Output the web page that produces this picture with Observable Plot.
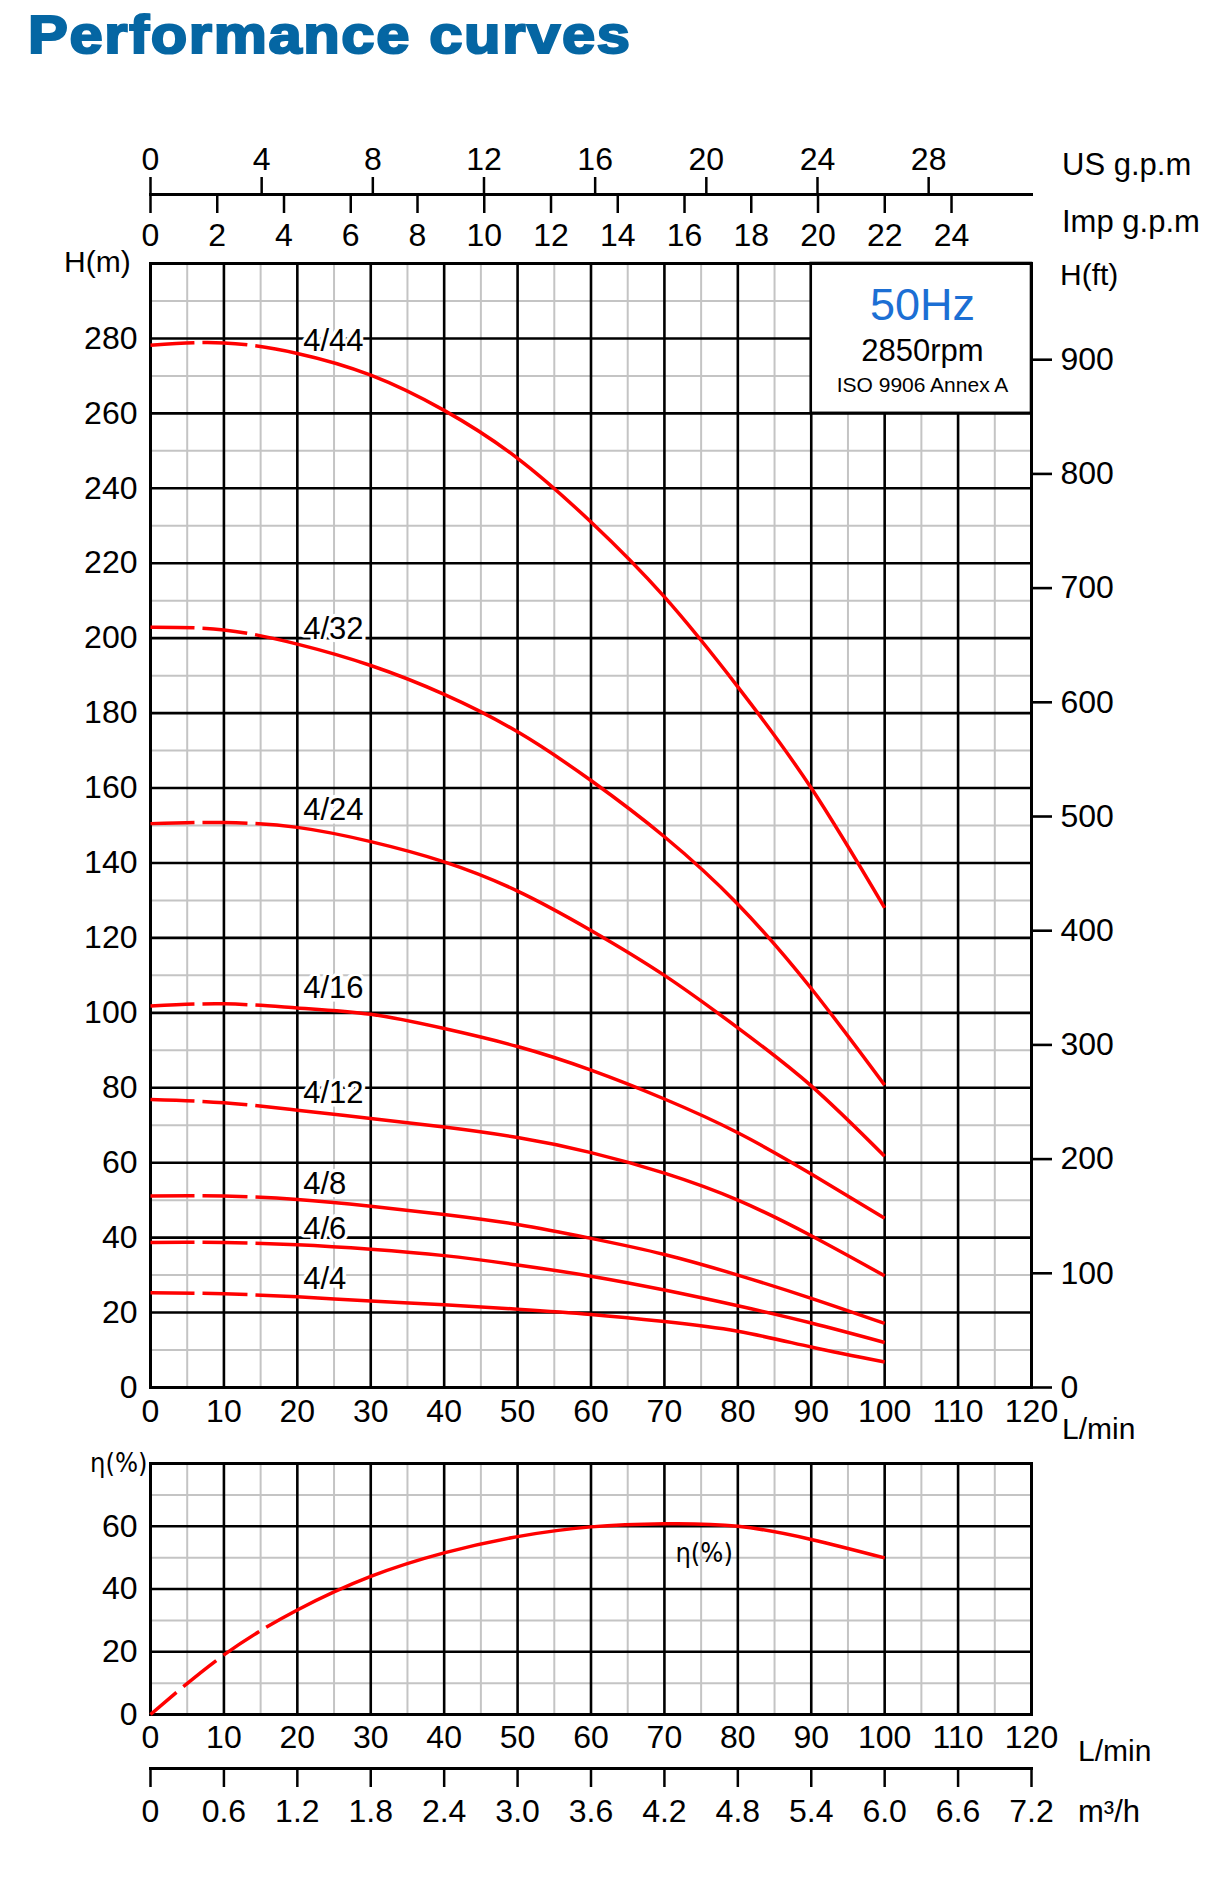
<!DOCTYPE html>
<html><head><meta charset="utf-8">
<script src="https://cdn.jsdelivr.net/npm/d3@7"></script>
<script src="https://cdn.jsdelivr.net/npm/@observablehq/plot@0.6"></script>
<style>
 body{margin:0;background:#fff;}
 #page{position:relative;width:1214px;height:1895px;background:#fff;font-family:"Liberation Sans",Arial,sans-serif;color:#000;overflow:hidden}
 .abs{position:absolute;white-space:nowrap;line-height:1}
 #title{left:28px;top:7px;font-size:54px;font-weight:bold;color:#0566a3;letter-spacing:1.5px;transform:scaleX(1.105);transform-origin:0 0;-webkit-text-stroke:2.2px #0566a3}
 .narrow{font-family:"Liberation Sans Narrow","DejaVu Sans Condensed",sans-serif}
 .plotbox{position:absolute;left:0}
</style></head>
<body><div id="page">
<div id="title" class="abs">Performance curves</div>
<div class="abs" style="left:1062px;top:149px;font-size:31px">US g.p.m</div>
<div class="abs" style="left:1062px;top:206px;font-size:31px">Imp g.p.m</div>
<div class="abs" style="left:64px;top:247px;font-size:30px">H(m)</div>
<div class="abs" style="left:1060px;top:260px;font-size:30px">H(ft)</div>
<div class="abs" style="left:1062px;top:1414px;font-size:30px">L/min</div>
<div class="abs narrow" style="left:90px;top:1449px;font-size:27px">η(%)</div>
<div class="abs" style="left:1078px;top:1736px;font-size:30px">L/min</div>
<div class="abs" style="left:1078px;top:1796px;font-size:31px">m³/h</div>
</div>
<script>
// ---------- data ----------
const flow = [0, 10, 20, 30, 40, 50, 60, 70, 80, 90, 100]; // L/min
const models = ["4/44", "4/32", "4/24", "4/16", "4/12", "4/8", "4/6", "4/4"];
const head_4_44 = [278.2, 278.8, 276, 270.2, 260.8, 248, 231, 211, 187, 160, 128];
const head_4_32 = [202.9, 202.2, 198.4, 192.7, 185, 175, 162, 147, 129, 106.5, 80.7];
const head_4_24 = [150.5, 150.8, 149.5, 145.7, 140.3, 132.5, 122, 110, 96, 80.5, 61.7];
const head_4_16 = [101.8, 102.4, 101.3, 99.6, 95.8, 91, 84.7, 77, 68, 57, 45.2];
const head_4_12 = [76.9, 76, 74, 71.8, 69.5, 66.7, 62.7, 57.2, 50, 40.5, 29.8];
const head_4_8  = [51.1, 51.1, 50.2, 48.4, 46.2, 43.5, 39.8, 35.5, 30, 23.8, 17.1];
const head_4_6  = [38.7, 38.7, 38.1, 36.9, 35.2, 32.7, 29.7, 26, 21.8, 17.2, 12];
const head_4_4  = [25.3, 25, 24.2, 23.1, 22.1, 20.9, 19.5, 17.6, 15, 10.8, 6.8];
const headSeries = [head_4_44, head_4_32, head_4_24, head_4_16, head_4_12, head_4_8, head_4_6, head_4_4];
const labelFlow = 20.8;
const labelHead = [279.2, 202.4, 154, 106.7, 78.7, 54.4, 42.4, 29];
const efficiency = [0, 19, 33.3, 44, 51.5, 56.7, 59.8, 60.8, 60, 55.8, 49.9];
const effLabel = {q: 71.5, eff: 51.4, text: "η(%)"};

const flowTicks = [0, 10, 20, 30, 40, 50, 60, 70, 80, 90, 100, 110, 120];
const headTicks = [0, 20, 40, 60, 80, 100, 120, 140, 160, 180, 200, 220, 240, 260, 280];
const ftTicks = [0, 100, 200, 300, 400, 500, 600, 700, 800, 900];
const effTicks = [0, 20, 40, 60];
const usTicks = [0, 4, 8, 12, 16, 20, 24, 28];
const impTicks = [0, 2, 4, 6, 8, 10, 12, 14, 16, 18, 20, 22, 24];
const m3Ticks = [0, 0.6, 1.2, 1.8, 2.4, 3.0, 3.6, 4.2, 4.8, 5.4, 6.0, 6.6, 7.2];
const boxRegion = {q1: 90, q2: 120, h1: 260, h2: 300};
const boxTexts = ["50Hz", "2850rpm", "ISO 9906 Annex A"];

const L_PER_USGAL = 3.785411784, L_PER_IMPGAL = 4.54609, M_PER_FT = 0.3048;

// ---------- layout ----------
const W = 1214, ML = 150, MR = 183;
const FONT = "Liberation Sans, Arial, sans-serif";
const RED = "#ff0000", GRAY = "#c4c4c4";
const gridMinorX = d3.range(5, 120, 10);
const gridMajorX = d3.range(10, 120, 10);
const page = document.getElementById("page");
function place(svg, top) {
  const d = document.createElement("div");
  d.className = "plotbox"; d.style.top = top + "px";
  d.appendChild(svg); page.appendChild(d);
}
const baseStyle = {fontFamily: FONT, fontSize: "32px", background: "none", color: "#000", overflow: "visible"};

// header: US / Imp gpm axes
const header = Plot.plot({
  width: W, height: 140, marginLeft: ML, marginRight: MR, marginTop: 70, marginBottom: 70,
  x: {domain: [0, 120]},
  style: baseStyle,
  marks: [
    Plot.frame({anchor: "top", stroke: "#000", strokeWidth: 3}),
    Plot.axisX({anchor: "top", ticks: usTicks.map(g => g * L_PER_USGAL), tickFormat: d => Math.round(d / L_PER_USGAL),
      tickSize: 18, tickPadding: 7, strokeWidth: 2.5, label: null}),
    Plot.axisX({anchor: "bottom", ticks: impTicks.map(g => g * L_PER_IMPGAL), tickFormat: d => Math.round(d / L_PER_IMPGAL),
      tickSize: 19, tickPadding: 10, strokeWidth: 2.5, label: null})
  ]
});
place(header, 124);

// main head chart
const headRows = models.flatMap((m, i) => flow.map((q, j) => ({model: m, q, h: headSeries[i][j]})));
const labelRows = models.map((m, i) => ({model: m, q: labelFlow, h: labelHead[i]}));
const boxText = (t, dy, size, color) => Plot.text([t], {text: d => d, frameAnchor: "top-right", textAnchor: "middle",
  lineAnchor: "middle", dx: -109, dy, fontSize: size, fill: color});
const main = Plot.plot({
  width: W, height: 1204, marginLeft: ML, marginRight: MR, marginTop: 20, marginBottom: 60,
  x: {domain: [0, 120]}, y: {domain: [0, 300]},
  style: baseStyle,
  marks: [
    Plot.ruleX(gridMinorX, {stroke: GRAY, strokeWidth: 2}),
    Plot.ruleY(d3.range(10, 300, 20), {stroke: GRAY, strokeWidth: 2}),
    Plot.ruleX(gridMajorX, {stroke: "#000", strokeWidth: 2.6}),
    Plot.ruleY(d3.range(20, 300, 20), {stroke: "#000", strokeWidth: 2.6}),
    Plot.rect([boxRegion], {x1: "q1", x2: "q2", y1: "h1", y2: "h2", fill: "#fff", stroke: "#000", strokeWidth: 2.6}),
    Plot.frame({stroke: "#000", strokeWidth: 3}),
    Plot.axisY({anchor: "left", ticks: headTicks, tickSize: 0, tickPadding: 13, label: null}),
    Plot.axisX({anchor: "bottom", ticks: flowTicks, tickSize: 0, tickPadding: 12, label: null}),
    Plot.axisY({anchor: "right", ticks: ftTicks.map(f => f * M_PER_FT), tickFormat: d => Math.round(d / M_PER_FT),
      tickSize: 20, tickPadding: 9, strokeWidth: 2.6, label: null}),
    Plot.line(headRows, {x: "q", y: "h", z: "model", stroke: RED, strokeWidth: 3.5, curve: "natural",
      strokeLinecap: "butt", strokeDasharray: "44,8,45,8,6000"}),
    Plot.text(labelRows, {x: "q", y: "h", text: "model", textAnchor: "start", fontSize: 31, fill: "#000",
      stroke: "#fff", strokeWidth: 7}),
    boxText(boxTexts[0], 42, 45, "#1c6fd4"),
    boxText(boxTexts[1], 88, 31, "#000"),
    boxText(boxTexts[2], 122, 21, "#000")
  ]
});
place(main, 243);

// efficiency chart
const effRows = flow.map((q, j) => ({q, eff: efficiency[j]}));
const eff = Plot.plot({
  width: W, height: 311, marginLeft: ML, marginRight: MR, marginTop: 20, marginBottom: 40,
  x: {domain: [0, 120]}, y: {domain: [0, 80]},
  style: baseStyle,
  marks: [
    Plot.ruleX(gridMinorX, {stroke: GRAY, strokeWidth: 2}),
    Plot.ruleY([10, 30, 50, 70], {stroke: GRAY, strokeWidth: 2}),
    Plot.ruleX(gridMajorX, {stroke: "#000", strokeWidth: 2.6}),
    Plot.ruleY([20, 40, 60], {stroke: "#000", strokeWidth: 2.6}),
    Plot.frame({stroke: "#000", strokeWidth: 3}),
    Plot.axisY({anchor: "left", ticks: effTicks, tickSize: 0, tickPadding: 13, label: null}),
    Plot.axisX({anchor: "bottom", ticks: flowTicks, tickSize: 0, tickPadding: 11, label: null}),
    Plot.line(effRows, {x: "q", y: "eff", stroke: RED, strokeWidth: 3.5, curve: "natural",
      strokeLinecap: "butt", strokeDasharray: "34,9,42,9,43,8,6000"}),
    Plot.text([effLabel], {x: "q", y: "eff", text: "text", textAnchor: "start", fontSize: 27, fill: "#000",
      fontFamily: "Liberation Sans Narrow, DejaVu Sans Condensed, sans-serif"})
  ]
});
place(eff, 1442.7);

// m3/h axis
const m3 = Plot.plot({
  width: W, height: 80, marginLeft: ML, marginRight: MR, marginTop: 10, marginBottom: 70,
  x: {domain: [0, 7.2]},
  style: baseStyle,
  marks: [
    Plot.frame({anchor: "top", stroke: "#000", strokeWidth: 3}),
    Plot.axisX({anchor: "bottom", ticks: m3Ticks, tickFormat: d => d === 0 ? "0" : d.toFixed(1),
      tickSize: 19, tickPadding: 12, strokeWidth: 2.5, label: null})
  ]
});
place(m3, 1758);
</script>
</body></html>
